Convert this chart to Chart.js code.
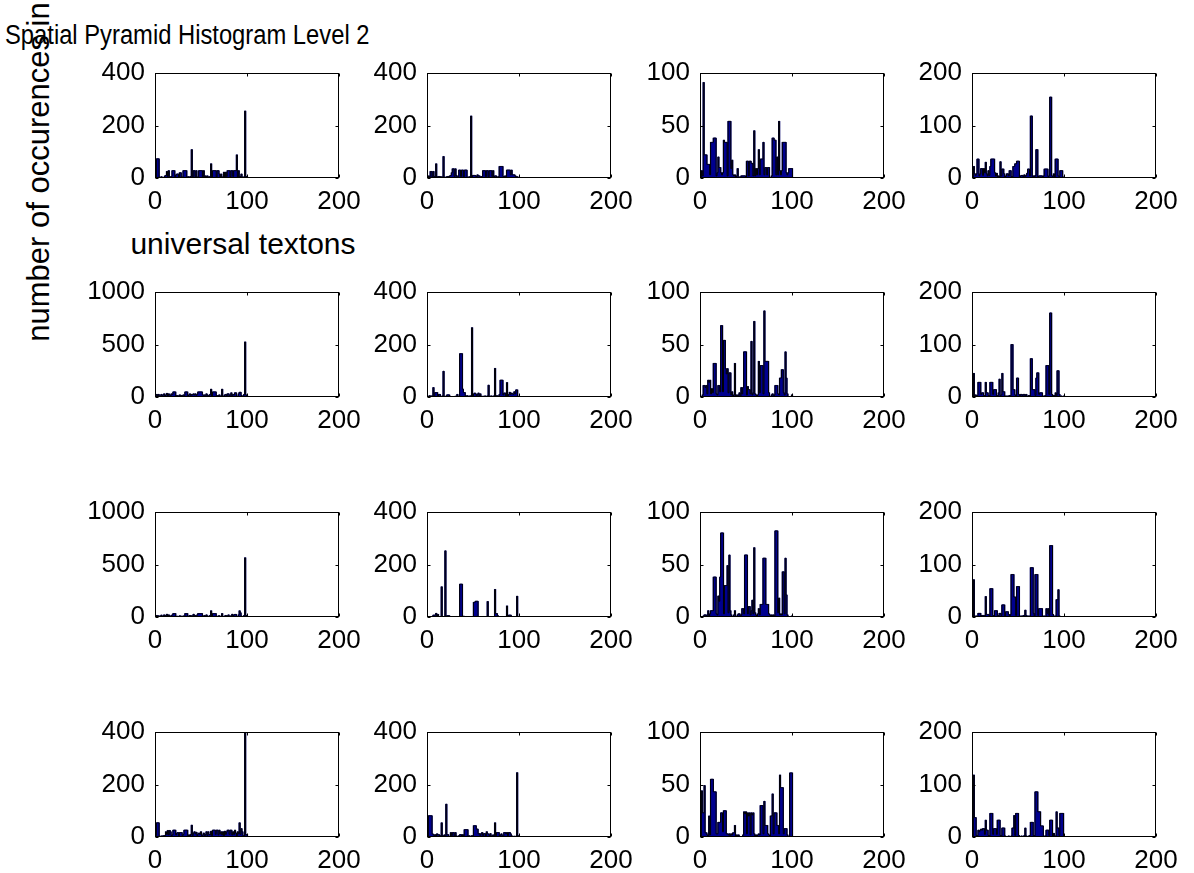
<!DOCTYPE html>
<html>
<head>
<meta charset="utf-8">
<script src="https://cdn.jsdelivr.net/npm/chart.js@4.4.0/dist/chart.umd.min.js"></script>
<style>
  body { margin: 0; background: #fff; width: 1194px; height: 873px; position: relative; overflow: hidden;
         font-family: "Liberation Sans", Arial, sans-serif; }
  canvas { position: absolute; }
  .lbl { position: absolute; white-space: nowrap; color: #000; line-height: 1; }
</style>
</head>
<body>
<div class="lbl" style="left:5px; top:22px; font-size:27px; transform:scaleX(0.88); transform-origin:0 0;">Spatial Pyramid Histogram Level 2</div>
<div class="lbl" style="left:243px; top:229px; font-size:30px; transform:translateX(-50%);">universal textons</div>
<div class="lbl" style="left:38px; top:172px; font-size:31px; transform:translate(-50%,-50%) rotate(-90deg);">number of occurences in</div>
<script>
// bin index of every histogram bar (universal texton 1..100)
const bins = Array.from({ length: 100 }, (_, i) => i + 1);

// upper y limit of each subplot (row by row), ticks at 0, max/2, max
const yMax = [400, 400, 100, 200, 1000, 400, 100, 200, 1000, 400, 100, 200, 400, 400, 100, 200];
const xTicks = [0, 100, 200];

// counts per bin, one array per subplot
const r1c1 = [4,73,73,73,3,2,5,2,3,2, 8,10,25,6,28,4,4,6,28,28, 28,4,12,15,15,3,20,20,4,3, 28,28,28,28,2,5,4,3,6,108,
  3,28,28,5,28,3,4,28,28,28, 28,5,28,3,8,4,8,4,2,6, 54,4,28,28,28,28,4,28,28,15, 4,15,3,4,22,4,22,6,28,28,
  28,4,28,28,6,28,28,28,88,4, 28,4,6,15,3,4,2,255,6,5];
const r1c2 = [3,8,5,25,25,3,25,6,4,54, 3,5,6,4,5,3,4,82,3,2, 4,5,6,4,8,10,20,35,35,6, 35,10,4,5,30,30,6,30,30,4,
  30,30,30,3,2,5,3,236,4,10, 10,10,8,4,12,8,8,3,5,6, 28,28,28,5,28,28,4,28,28,28, 6,28,3,8,8,3,4,5,44,44,
  44,44,6,4,8,5,30,30,30,30, 12,30,12,12,12,8,4,5,2,3];
const r1c3 = [0,7,2,91,22,22,22,13,13,13, 3,34,34,34,38,38,38,2,5,20, 10,10,5,3,5,36,34,34,34,2, 54,54,54,9,17,3,2,3,0,2,
  9,0,1,0,2,2,2,2,2,0, 16,16,2,16,16,14,14,2,45,2, 9,3,9,27,3,18,18,18,34,3, 10,10,3,10,10,0,0,2,38,38,
  36,36,3,20,3,54,7,3,7,34, 34,34,34,5,3,5,9,9,9,9];
const r1c4 = [0,22,8,5,8,36,36,4,8,18, 18,5,18,10,30,8,4,14,5,22, 36,36,36,36,10,4,9,2,4,2, 31,4,17,17,8,2,4,8,8,4,
  14,14,3,2,22,22,27,27,32,32, 32,2,4,5,5,2,6,3,5,9, 17,17,4,118,118,3,4,2,5,54, 54,2,4,4,4,4,2,4,17,17,
  17,17,3,4,154,154,4,3,8,2, 36,36,36,4,3,14,14,14,2,0];
const r2c1 = [15,25,10,25,8,10,25,12,20,30, 10,20,35,10,30,20,12,30,25,48, 48,48,10,15,5,12,20,10,15,12, 20,15,48,48,48,10,20,30,15,25,
  20,30,20,30,15,25,48,48,48,48, 48,20,15,20,5,30,20,10,15,25, 74,5,48,48,48,48,15,10,15,20, 5,10,74,10,5,20,25,10,30,30,
  10,20,40,5,25,20,40,40,10,5, 30,45,45,15,5,10,25,524,20,15];
const r2c2 = [2,3,5,2,4,3,36,5,17,17, 17,4,10,10,3,2,4,98,2,3, 2,8,8,8,3,2,0,2,0,2, 3,2,10,2,3,165,165,165,30,17,
  17,5,3,5,2,3,4,4,264,3, 12,15,12,4,10,15,4,12,3,2, 3,2,4,3,2,4,45,2,3,4, 2,3,4,109,3,5,3,4,10,64,
  64,64,8,15,15,4,55,4,10,18, 10,15,12,10,20,12,27,27,3,2];
const r2c3 = [0,0,2,11,11,9,11,3,16,14, 16,3,8,4,32,32,32,3,2,11, 11,5,68,68,5,54,54,27,22,27, 4,23,23,2,5,0,2,32,0,2,
  0,2,4,0,9,3,9,43,43,43, 2,10,7,7,3,53,2,4,72,3, 2,0,2,34,4,30,30,30,3,82, 34,34,34,34,4,0,0,2,3,0,
  2,11,11,11,3,2,18,18,26,26, 4,2,43,18,3,0,0,0,0,2];
const r2c4 = [0,45,2,4,3,3,28,28,28,5, 8,8,3,2,28,8,8,3,2,28, 28,28,5,14,14,14,3,2,8,34, 3,4,45,10,10,2,0,2,0,2,
  3,3,100,100,14,14,4,2,36,36, 5,2,5,5,2,5,5,2,5,0, 2,3,2,73,73,14,14,14,3,36, 46,46,5,8,8,8,2,0,2,3,
  60,60,60,5,160,160,5,2,3,2, 8,3,50,50,5,0,2,0,0,2];
const r3c1 = [8,15,5,12,3,8,18,5,10,20, 8,15,26,5,20,10,5,15,20,33, 33,33,5,8,3,5,12,5,8,5, 10,8,33,33,33,5,10,15,8,12,
  8,26,10,15,5,20,33,33,33,33, 33,10,8,15,3,20,10,5,8,15, 59,5,33,33,33,33,8,5,10,12, 3,5,33,5,3,10,15,5,12,20,
  5,10,8,26,5,20,25,25,5,3, 20,59,40,8,5,3,15,564,15,10];
const r3c2 = [0,2,0,0,2,0,7,7,7,14, 2,10,0,2,0,115,0,2,0,252, 2,5,5,5,2,0,0,2,0,0, 0,2,0,0,2,125,125,125,2,3,
  0,0,2,0,0,0,0,2,0,0, 56,56,60,60,60,2,0,0,0,0, 2,0,0,0,0,59,0,2,0,0, 0,0,2,105,13,13,5,2,0,0,
  0,2,0,0,0,0,42,2,7,7, 7,2,0,0,0,0,0,79,2,0];
const r3c3 = [0,0,0,1,2,2,1,2,6,0, 3,6,6,6,38,38,38,3,2,20, 15,38,80,80,80,3,30,30,30,49, 4,59,6,2,0,0,2,6,0,0,
  2,3,3,0,2,8,8,3,59,59, 59,3,10,10,2,6,16,3,66,4, 2,0,3,8,2,12,12,12,56,56, 56,12,12,12,3,2,0,2,0,2,
  0,82,82,82,4,18,2,3,2,43, 43,3,56,21,2,0,0,0,0,1];
const r3c4 = [0,71,2,0,2,0,7,7,7,2, 3,3,3,0,39,5,5,5,2,54, 54,54,3,2,12,12,12,3,2,7, 7,3,23,23,23,2,10,10,10,5,
  2,5,81,81,81,38,38,3,58,58, 58,2,0,2,0,3,3,13,3,0, 2,0,2,94,94,94,7,2,81,81, 81,3,16,16,16,16,2,0,2,0,
  16,7,16,3,136,136,136,5,2,0, 2,33,33,52,2,0,0,0,0,1];
const r4c1 = [5,54,54,54,3,2,4,2,5,3, 6,20,10,25,8,25,20,5,8,26, 26,26,8,15,17,5,17,17,17,5, 10,26,26,26,26,5,8,3,10,45,
  5,15,20,12,18,5,12,15,10,20, 5,8,15,3,10,20,6,20,10,8, 22,5,26,26,26,10,26,26,8,26, 12,20,8,20,5,22,10,20,26,26,
  10,26,26,8,20,10,26,15,5,20, 12,54,10,32,20,5,3,450,9,9];
const r4c2 = [3,81,81,81,81,12,9,5,9,3, 12,8,9,3,5,54,5,3,8,2, 125,9,9,3,2,17,5,17,17,3, 17,4,2,3,5,9,9,3,9,5,
  28,28,28,28,3,5,2,3,5,4, 43,43,43,30,30,12,13,5,13,17, 5,13,13,3,20,13,10,5,13,4, 3,8,5,54,5,17,17,17,4,8,
  12,5,3,17,17,12,17,5,17,17, 12,4,3,2,3,2,3,245,5,2];
const r4c3 = [0,44,23,23,49,4,4,2,0,20, 2,55,55,55,43,43,43,3,3,14, 14,14,23,23,5,25,25,25,3,3, 2,3,0,3,2,4,4,11,0,2,
  0,2,0,0,0,0,2,24,22,24, 3,23,20,23,2,23,21,23,3,0, 2,0,2,3,2,30,30,30,3,34, 11,11,11,3,2,0,20,20,41,3,
  23,23,23,11,11,3,59,47,47,47, 3,8,8,8,2,0,0,61,61,61];
const r4c4 = [0,118,37,37,3,2,13,10,13,15, 13,16,16,5,32,13,13,3,2,45, 45,45,5,16,16,16,5,32,32,32, 3,2,17,17,17,2,0,0,0,2,
  0,0,2,17,17,41,3,45,45,45, 3,0,0,2,0,0,3,17,2,0, 0,2,3,28,28,28,3,2,86,86, 86,48,48,48,21,21,21,2,0,2,
  13,13,13,3,32,32,32,2,7,0, 2,48,17,17,3,45,45,45,45,0];

const panels = [r1c1, r1c2, r1c3, r1c4, r2c1, r2c2, r2c3, r2c4, r3c1, r3c2, r3c3, r3c4, r4c1, r4c2, r4c3, r4c4];

// placement of the 4x4 subplot grid
const colLeft = [155, 427, 700, 972];
const rowTop = [73, 292, 512, 732];
const plotW = 184, plotH = 105;
const padL = 80, padT = 30, padR = 34, padB = 50;

// matlab style box with inward ticks on all four sides
const boxPlugin = {
  id: 'box',
  afterDraw(chart) {
    const { ctx, chartArea: a, scales: { x, y } } = chart;
    const L = Math.round(a.left) + 0.5, T = Math.round(a.top) + 0.5;
    const R = Math.round(a.right) - 0.5, B = Math.round(a.bottom) - 0.5;
    ctx.save();
    ctx.strokeStyle = '#000';
    ctx.lineWidth = 1;
    ctx.strokeRect(L, T, R - L, B - T);
    ctx.beginPath();
    x.ticks.forEach(t => {
      const px = Math.round(x.getPixelForValue(t.value)) + 0.5;
      ctx.moveTo(px, B); ctx.lineTo(px, B - 3);
      ctx.moveTo(px, T); ctx.lineTo(px, T + 3);
    });
    y.ticks.forEach(t => {
      const py = Math.round(y.getPixelForValue(t.value)) + 0.5;
      ctx.moveTo(L, py); ctx.lineTo(L + 3, py);
      ctx.moveTo(R, py); ctx.lineTo(R - 3, py);
    });
    ctx.stroke();
    ctx.restore();
  }
};

Chart.defaults.font.family = '"Liberation Sans", Arial, sans-serif';
Chart.defaults.color = '#000';

panels.forEach((vals, i) => {
  const r = Math.floor(i / 4), c = i % 4;
  const cv = document.createElement('canvas');
  cv.width = padL + plotW + padR;
  cv.height = padT + plotH + padB;
  cv.style.left = (colLeft[c] - padL) + 'px';
  cv.style.top = (rowTop[r] - padT) + 'px';
  document.body.appendChild(cv);

  const bars = bins.map((b, k) => ({ x: b, y: vals[k] }));
  const outline = [{ x: 0, y: 0 }, ...bars, { x: bins.length + 1, y: 0 }];

  new Chart(cv.getContext('2d'), {
    type: 'bar',
    data: {
      datasets: [
        {
          type: 'line',
          data: outline,
          stepped: 'middle',
          borderColor: '#000',
          borderWidth: 1,
          pointRadius: 0,
          fill: false,
          order: 0
        },
        {
          type: 'bar',
          data: bars,
          backgroundColor: '#00008f',
          borderWidth: 0,
          barThickness: 1.6,
          order: 1
        }
      ]
    },
    options: {
      responsive: false,
      animation: false,
      devicePixelRatio: 1,
      layout: { padding: { left: 0, top: padT, right: padR, bottom: 0 } },
      plugins: { legend: { display: false }, tooltip: { enabled: false } },
      scales: {
        x: {
          type: 'linear',
          min: xTicks[0],
          max: xTicks[xTicks.length - 1],
          offset: false,
          grid: { display: false, drawTicks: false },
          border: { display: false },
          afterBuildTicks: s => { s.ticks = xTicks.map(v => ({ value: v })); },
          ticks: { padding: 8, maxRotation: 0, autoSkip: false, font: { size: 26 }, callback: v => String(v) },
          afterFit: s => { s.height = padB; }
        },
        y: {
          min: 0,
          max: yMax[i],
          grid: { display: false, drawTicks: false },
          border: { display: false },
          ticks: { stepSize: yMax[i] / 2, padding: 10, font: { size: 26 }, callback: v => String(v) },
          afterFit: s => { s.width = padL; }
        }
      }
    },
    plugins: [boxPlugin]
  });
});
</script>
</body>
</html>
